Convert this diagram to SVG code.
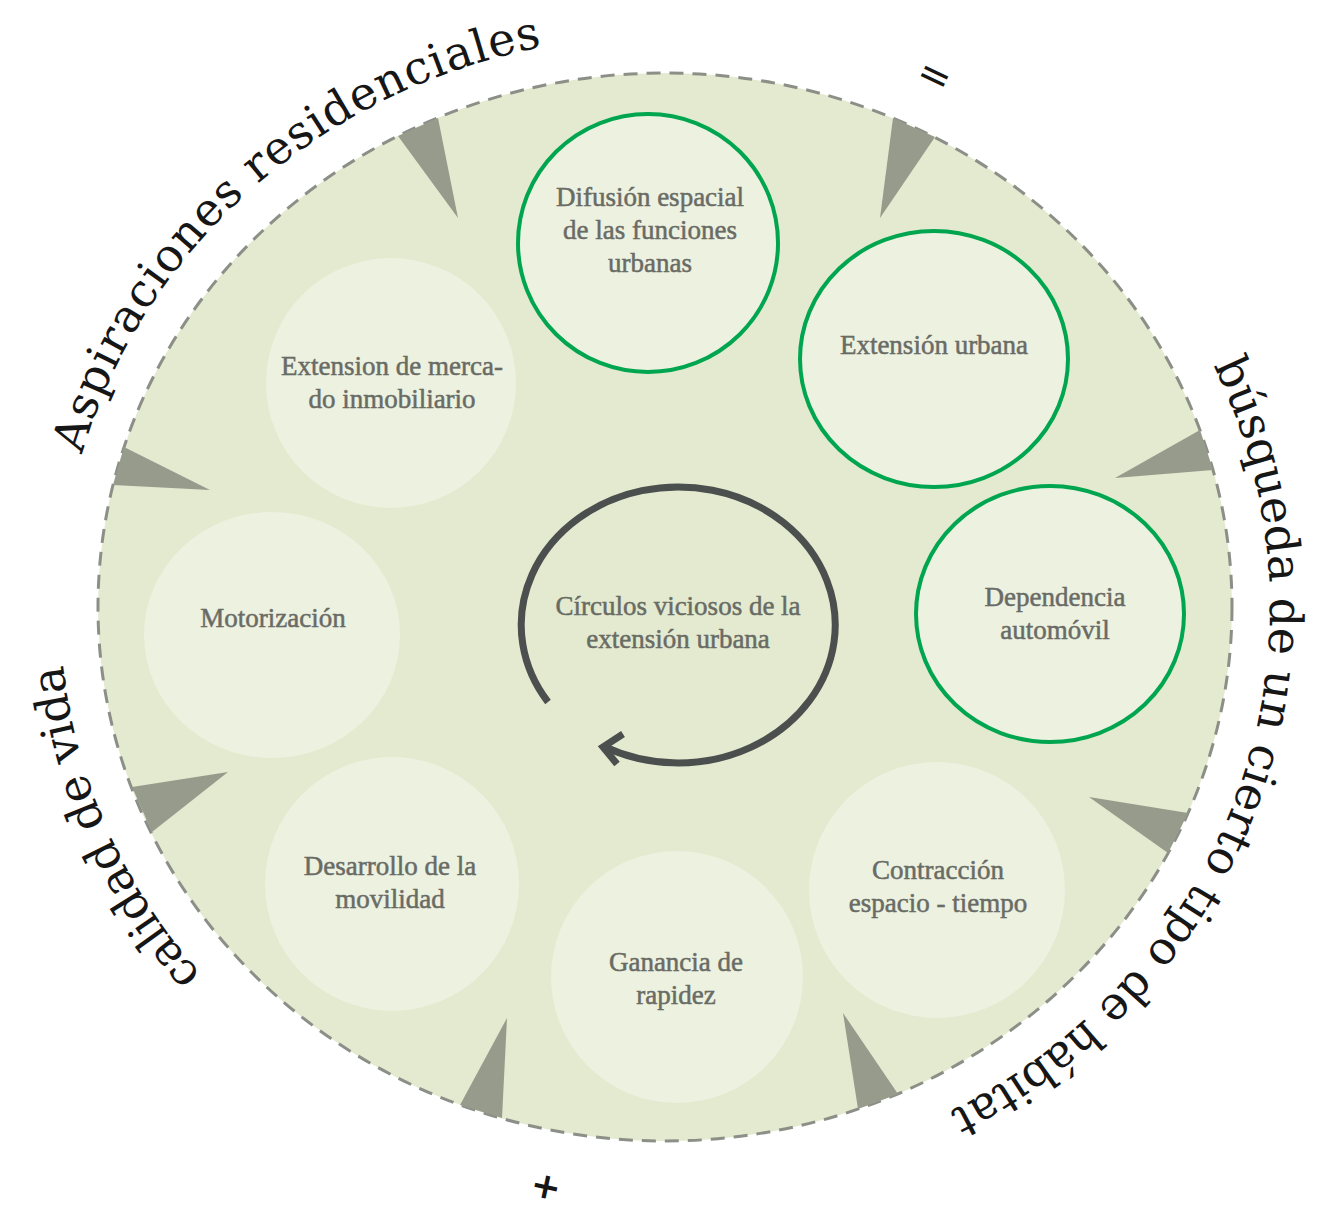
<svg xmlns="http://www.w3.org/2000/svg" width="1319" height="1208" viewBox="0 0 1319 1208">
<style>
.node-text{font-family:"Liberation Serif","Times New Roman",serif;font-size:27px;fill:#696b65;text-anchor:middle;stroke:#696b65;stroke-width:0.5px}
.arc-text{font-family:"DejaVu Serif","Liberation Serif",serif;font-size:46px;fill:#161616}
.sym{font-family:"DejaVu Sans","Liberation Sans",sans-serif;fill:#161616;text-anchor:middle;dominant-baseline:central}
.pale{fill:#edf1e0}
.hl{fill:#edf1e0;stroke:#00a54f;stroke-width:4}
.tri{fill:#979b8c}
.loop{fill:none;stroke:#4b4f4e;stroke-width:7}
</style>
<defs>
<path id="pAsp" d="M 82 454.2 A 605 572 0 0 1 770 43.7"/>
<path id="pBus" d="M 1213.3 365.3 A 605 572 0 0 1 770 1170.3"/>
<path id="pCal" d="M 201.6 974.7 A 605 572 0 0 1 62.3 557.1"/>
</defs>
<rect width="1319" height="1208" fill="#ffffff"/>
<g id="ring">
<ellipse cx="665" cy="607" rx="567" ry="534" fill="#e3eacf" stroke="#8c8f87" stroke-width="3" stroke-dasharray="14 9"/>
</g>
<g id="connectors">
<polygon class="tri" points="398,136 438,118 458,218"/>
<polygon class="tri" points="893,118 935,137 880,218"/>
<polygon class="tri" points="1200,430 1213,470 1115,478"/>
<polygon class="tri" points="1188,813 1168,853 1089,797"/>
<polygon class="tri" points="898,1094 858,1109 843,1013"/>
<polygon class="tri" points="502,1118 460,1105 507,1018"/>
<polygon class="tri" points="132,787 152,832 228,772"/>
<polygon class="tri" points="124,447 113,485 210,490"/>
<path class="loop" d="M 548 702 A 157 138 0 1 1 605 747"/>
<polyline class="loop" points="623,734 603,747 617,764"/>
</g>
<g id="node-mercado">
<circle class="pale" cx="391" cy="383" r="125"/>
<text class="node-text" x="392" y="375">Extension de merca-<tspan x="392" dy="33">do inmobiliario</tspan></text>
</g>
<g id="node-difusion">
<ellipse class="hl" cx="648" cy="243" rx="130" ry="129"/>
<text class="node-text" x="650" y="206">Difusión espacial<tspan x="650" dy="33">de las funciones</tspan><tspan x="650" dy="33">urbanas</tspan></text>
</g>
<g id="node-extension">
<ellipse class="hl" cx="934" cy="359" rx="134" ry="128"/>
<text class="node-text" x="934" y="354">Extensión urbana</text>
</g>
<g id="node-dependencia">
<ellipse class="hl" cx="1050" cy="614" rx="134" ry="128"/>
<text class="node-text" x="1055" y="606">Dependencia<tspan x="1055" dy="33">automóvil</tspan></text>
</g>
<g id="node-contraccion">
<circle class="pale" cx="937" cy="890" r="128"/>
<text class="node-text" x="938" y="879">Contracción<tspan x="938" dy="33">espacio - tiempo</tspan></text>
</g>
<g id="node-ganancia">
<circle class="pale" cx="677" cy="977" r="126"/>
<text class="node-text" x="676" y="971">Ganancia de<tspan x="676" dy="33">rapidez</tspan></text>
</g>
<g id="node-desarrollo">
<circle class="pale" cx="392" cy="884" r="127"/>
<text class="node-text" x="390" y="875">Desarrollo de la<tspan x="390" dy="33">movilidad</tspan></text>
</g>
<g id="node-motorizacion">
<ellipse class="pale" cx="272" cy="635" rx="128" ry="123"/>
<text class="node-text" x="273" y="627">Motorización</text>
</g>
<g id="node-centro">
<text class="node-text" x="678" y="615">Círculos viciosos de la<tspan x="678" dy="33">extensión urbana</tspan></text>
</g>
<g id="labels">
<text class="arc-text"><textPath href="#pAsp" textLength="646" lengthAdjust="spacing">Aspiraciones residenciales</textPath></text>
<text class="arc-text"><textPath href="#pBus" textLength="880" lengthAdjust="spacing">búsqueda de un cierto tipo de hábitat</textPath></text>
<text class="arc-text"><textPath href="#pCal" textLength="345" lengthAdjust="spacing">calidad de vida</textPath></text>
<text class="sym" x="935" y="75" font-size="40" transform="rotate(25 935 75)">=</text>
<text class="sym" x="546" y="1186" font-size="36" font-weight="bold" transform="rotate(12 546 1186)">+</text>
</g>
</svg>
